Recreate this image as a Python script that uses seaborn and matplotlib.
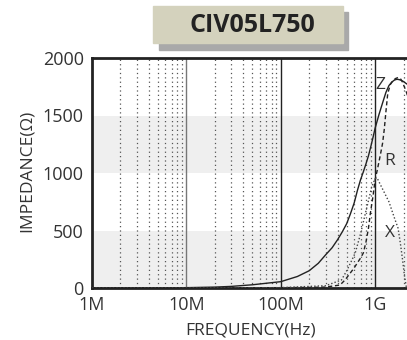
import seaborn as sns
import matplotlib.pyplot as plt
import matplotlib.patches as mpatches
import pandas as pd

# impedance curves (frequency in Hz, ohms)
z_freq = [1e6, 3e6, 1e7, 2e7, 3e7, 5e7, 1e8, 1.5e8, 2e8, 2.5e8, 3e8, 3.5e8, 4e8, 4.5e8, 5e8,
          5.5e8, 6e8, 6.5e8, 7e8, 7.5e8, 8e8, 8.5e8, 9e8, 9.5e8, 1e9, 1.1e9, 1.2e9, 1.3e9,
          1.4e9, 1.5e9, 1.6e9, 1.7e9, 1.8e9, 1.9e9, 2.0e9, 2.1e9, 2.25e9]
z_vals = [0, 0, 3, 8, 14, 28, 55, 100, 150, 215, 290, 350, 420, 490, 560,
          650, 740, 850, 940, 1010, 1080, 1150, 1230, 1310, 1390, 1510, 1610, 1700,
          1760, 1790, 1808, 1815, 1812, 1805, 1795, 1782, 1765]

r_freq = [1e6, 1e7, 1e8, 2e8, 3e8, 4.25e8, 4.8e8, 5.45e8, 6e8, 6.5e8, 7e8, 7.5e8, 8e8,
          8.5e8, 8.9e8, 9.5e8, 1e9, 1.05e9, 1.1e9, 1.15e9, 1.2e9, 1.25e9, 1.3e9, 1.36e9,
          1.45e9, 1.55e9, 1.65e9, 1.75e9, 1.85e9, 1.95e9, 2.05e9, 2.15e9, 2.25e9]
r_vals = [0, 0, 3, 5, 8, 26, 70, 130, 175, 220, 260, 305, 400,
          520, 650, 800, 940, 1020, 1100, 1180, 1260, 1380, 1530, 1690,
          1770, 1805, 1822, 1830, 1822, 1790, 1745, 1700, 1650]

x_freq = [1e6, 1e7, 1e8, 3e8, 4.4e8, 5e8, 5.5e8, 6.15e8, 7e8, 7.9e8, 8.5e8, 9.2e8, 1.0e9,
          1.05e9, 1.2e9, 1.4e9, 1.6e9, 1.75e9, 1.85e9, 1.95e9, 2.05e9, 2.15e9]
x_vals = [0, 0, 3, 20, 70, 150, 220, 304, 470, 652, 760, 880, 950,
          956, 860, 750, 610, 520, 390, 250, 100, 0]

x_ticks = [1e6, 1e7, 1e8, 1e9]
x_tick_labels = ['1M', '10M', '100M', '1G']
y_ticks = [0, 500, 1000, 1500, 2000]

z_df = pd.DataFrame({'freq': z_freq, 'imp': z_vals})
r_df = pd.DataFrame({'freq': r_freq, 'imp': r_vals})
x_df = pd.DataFrame({'freq': x_freq, 'imp': x_vals})

sns.set_style('white')
plt.rcParams['font.family'] = ['Open Sans', 'DejaVu Sans']

fig = plt.figure(figsize=(4.07, 3.40), dpi=100)
ax = fig.add_axes([92 / 407, 52 / 340, 316 / 407, 230 / 340])
ax.set_xscale('log')
ax.set_xlim(1e6, 2.23e9)
ax.set_ylim(0, 2000)

# grey bands
for lo in (0, 1000):
    ax.axhspan(lo, lo + 500, color='#efefef', zorder=0, lw=0)

# dotted minor grid, solid major lines
for dec in (1e6, 1e7, 1e8, 1e9):
    for m in range(2, 10):
        f = dec * m
        if f < 2.23e9:
            ax.axvline(f, color='#555555', lw=0.9, ls=(0, (1, 2.5)), zorder=1)
for f, c in ((1e7, '#777777'), (1e8, '#222222'), (1e9, '#222222')):
    ax.axvline(f, color=c, lw=1.0, zorder=1)

sns.lineplot(data=z_df, x='freq', y='imp', ax=ax, color='#222222', lw=1.0, zorder=3)
sns.lineplot(data=r_df, x='freq', y='imp', ax=ax, color='#222222', lw=1.0, ls=(0, (3, 2)), zorder=3)
sns.lineplot(data=x_df, x='freq', y='imp', ax=ax, color='#444444', lw=1.0, ls=(0, (1, 1.5)), zorder=3)

ax.text(1.13e9, 1765, 'Z', fontsize=12.5, color='#333333', ha='center', va='center')
ax.text(1.41e9, 1104, 'R', fontsize=12.5, color='#333333', ha='center', va='center')
ax.text(1.45e9, 478, 'X', fontsize=12.5, color='#333333', ha='center', va='center')

ax.set_xticks(x_ticks)
ax.set_xticklabels(x_tick_labels)
ax.set_yticks(y_ticks)
ax.minorticks_off()
ax.tick_params(axis='x', length=0, labelsize=13, labelcolor='#333333', pad=6)
ax.tick_params(axis='y', direction='in', length=6, width=1, color='#777777',
               labelsize=13, labelcolor='#333333', pad=6)
ax.set_xlabel('FREQUENCY(Hz)', fontsize=12.5, color='#333333')
ax.set_ylabel('IMPEDANCE(Ω)', fontsize=12.5, color='#333333')
ax.xaxis.set_label_coords(0.503, -0.152)
ax.yaxis.set_label_coords(-0.18, 0.51)

for side in ('left', 'bottom', 'top'):
    ax.spines[side].set_visible(True)
    ax.spines[side].set_color('#222222')
    ax.spines[side].set_linewidth(2)
ax.spines['right'].set_visible(False)

# title box with shadow
fig.patches.append(mpatches.Rectangle((159 / 407, 1 - 50 / 340), 189 / 407, 38 / 340,
                                      transform=fig.transFigure, color='#a9a9a9', zorder=0))
fig.patches.append(mpatches.Rectangle((153 / 407, 1 - 43 / 340), 190 / 407, 37 / 340,
                                      transform=fig.transFigure, color='#d4d2bd', zorder=1))
fig.text(252 / 407, 1 - 26 / 340, 'CIV05L750', fontsize=18, fontweight='bold',
         color='#222222', ha='center', va='center')

fig.savefig('out.png', dpi=100)
